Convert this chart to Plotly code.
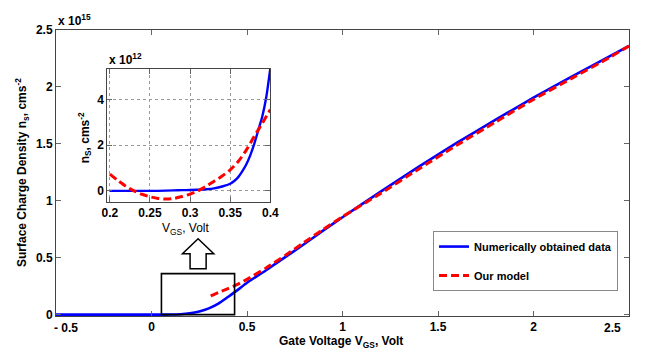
import plotly.graph_objects as go

# ---- main plot data (values in units of 1e15 cm^-2) ----
vgs_num = [-0.5, 0.0, 0.05, 0.1, 0.15, 0.2, 0.25, 0.3, 0.35, 0.4, 0.45, 0.5, 0.6, 0.7,
           0.8, 0.9, 1.0, 1.2, 1.4, 1.6, 1.8, 2.0, 2.2, 2.4, 2.5]
ns_num = [0, 0, 0, 0.001, 0.004, 0.012, 0.028, 0.055, 0.097, 0.155, 0.215, 0.28, 0.39, 0.505,
          0.62, 0.74, 0.855, 1.08, 1.30, 1.51, 1.71, 1.905, 2.09, 2.27, 2.36]

vgs_model = [0.31, 0.35, 0.4, 0.45, 0.5, 0.6, 0.7, 0.8, 0.9, 1.0, 1.2, 1.4, 1.6, 1.8,
             2.0, 2.2, 2.4, 2.5]
ns_model = [0.165, 0.195, 0.228, 0.265, 0.31, 0.41, 0.52, 0.635, 0.75, 0.86, 1.065, 1.28,
            1.49, 1.69, 1.89, 2.075, 2.26, 2.36]

# ---- inset data (values in units of 1e12 cm^-2) ----
inset_vgs_num = [0.2, 0.22, 0.24, 0.26, 0.28, 0.29, 0.3, 0.31, 0.32, 0.33, 0.34, 0.35,
                 0.355, 0.36, 0.365, 0.37, 0.375, 0.38, 0.385, 0.39, 0.395, 0.4]
inset_ns_num = [0, 0, 0, 0, 0.02, 0.03, 0.035, 0.045, 0.07, 0.11, 0.19, 0.31, 0.43, 0.6,
                0.85, 1.15, 1.55, 2.05, 2.65, 3.25, 4.1, 5.35]

inset_vgs_model = [0.2, 0.21, 0.22, 0.23, 0.24, 0.25, 0.26, 0.27, 0.28, 0.29, 0.3, 0.31,
                   0.32, 0.33, 0.34, 0.35, 0.36, 0.37, 0.38, 0.39, 0.4]
inset_ns_model = [0.73, 0.45, 0.2, 0.0, -0.15, -0.26, -0.33, -0.36, -0.33, -0.25, -0.14,
                  0.0, 0.2, 0.42, 0.65, 0.92, 1.28, 1.78, 2.38, 2.95, 3.55]

main_xticks = [-0.5, 0, 0.5, 1, 1.5, 2, 2.5]
main_xticktext = ["", "0", "0.5", "1", "1.5", "2", ""]
main_yticks = [0, 0.5, 1, 1.5, 2, 2.5]
main_yticktext = ["0", "0.5", "1", "1.5", "2", "2.5"]
inset_xticks = [0.2, 0.25, 0.3, 0.35, 0.4]
inset_xticktext = ["0.2", "0.25", "0.3", "0.35", "0.4"]
inset_yticks = [0, 2, 4]

FONT = "Liberation Sans, Arial, sans-serif"
BLUE = "#0000FF"
RED = "#FF0000"

fig = go.Figure()

fig.add_trace(go.Scatter(x=vgs_num, y=ns_num, mode="lines", name="Numerically obtained data",
                         line=dict(color=BLUE, width=2.6, shape="spline", smoothing=0.6),
                         legendgroup="a", xaxis="x", yaxis="y"))
fig.add_trace(go.Scatter(x=vgs_model, y=ns_model, mode="lines", name="Our model",
                         line=dict(color=RED, width=3, dash="8px,4px", shape="spline", smoothing=0.6),
                         legendgroup="b", xaxis="x", yaxis="y"))

fig.add_trace(go.Scatter(x=inset_vgs_num, y=inset_ns_num, mode="lines", showlegend=False,
                         line=dict(color=BLUE, width=2.4, shape="spline", smoothing=0.6),
                         xaxis="x2", yaxis="y2"))
fig.add_trace(go.Scatter(x=inset_vgs_model, y=inset_ns_model, mode="lines", showlegend=False,
                         line=dict(color=RED, width=3, dash="8px,4px", shape="spline", smoothing=0.6),
                         xaxis="x2", yaxis="y2"))

tickfont = dict(family=FONT, size=12, color="black", weight="bold")
axis_common = dict(showline=True, linecolor="#444", linewidth=1, mirror="ticks",
                   ticks="inside", ticklen=5, tickcolor="#666", zeroline=False,
                   tickfont=tickfont)

fig.update_layout(
    width=650, height=354,
    margin=dict(l=56, r=15, t=30, b=38),
    paper_bgcolor="white", plot_bgcolor="white",
    font=dict(family=FONT, size=11, color="black"),
    xaxis=dict(range=[-0.5, 2.5], tickvals=main_xticks, ticktext=main_xticktext,
               showgrid=False, domain=[0, 1], **axis_common),
    yaxis=dict(range=[-0.012, 2.5], tickvals=main_yticks, ticktext=main_yticktext,
               showgrid=False, domain=[0, 1], **axis_common),
    xaxis2=dict(range=[0.197, 0.4], tickvals=inset_xticks, ticktext=inset_xticktext,
                domain=[0.0898, 0.374], anchor="y2", showgrid=True, gridcolor="#999",
                griddash="dot", gridwidth=1, **axis_common),
    yaxis2=dict(range=[-0.47, 5.33], tickvals=inset_yticks,
                domain=[0.40, 0.864], anchor="x2", showgrid=True, gridcolor="#999",
                griddash="dot", gridwidth=1, **axis_common),
    legend=dict(x=0.658, y=0.297, xanchor="left", yanchor="top",
                bgcolor="white", bordercolor="#888", borderwidth=1,
                font=dict(family=FONT, size=11, color="black", weight="bold"),
                tracegroupgap=10, itemwidth=30),
    showlegend=True,
)

# zoom rectangle and hollow arrow
fig.add_shape(type="rect", xref="x", yref="y", x0=0.052, x1=0.435, y0=0.0, y1=0.36,
              line=dict(color="black", width=1.6), fillcolor="rgba(0,0,0,0)")
ax_c, head_h, shaft_h = 0.244, 0.082, 0.042
y_tip, y_base, y_bot = 0.667, 0.535, 0.404
arrow_path = (f"M {ax_c},{y_tip} L {ax_c + head_h},{y_base} L {ax_c + shaft_h},{y_base} "
              f"L {ax_c + shaft_h},{y_bot} L {ax_c - shaft_h},{y_bot} L {ax_c - shaft_h},{y_base} "
              f"L {ax_c - head_h},{y_base} Z")
fig.add_shape(type="path", xref="x", yref="y", path=arrow_path,
              line=dict(color="black", width=1.5), fillcolor="white")

bold = dict(family=FONT, size=12, color="black", weight="bold")
ann = [
    dict(text="x 10<sup>15</sup>", xref="paper", yref="paper", x=0, y=1, xanchor="left",
         yanchor="bottom", showarrow=False, font=bold, yshift=0),
    dict(text="x 10<sup>12</sup>", xref="x2 domain", yref="y2 domain", x=0, y=1, xanchor="left",
         yanchor="bottom", showarrow=False, font=bold, yshift=0),
    dict(text="Surface Charge Density n<sub>s</sub>, cms<sup>-2</sup>", xref="paper", yref="paper",
         x=0, y=0.5, xshift=-34, xanchor="center", yanchor="middle", textangle=-90,
         showarrow=False, font=bold),
    dict(text="Gate Voltage V<sub>GS</sub>, Volt", xref="paper", yref="paper",
         x=0.497, y=0, yshift=-26, xanchor="center", yanchor="middle",
         showarrow=False, font=bold),
    dict(text="n<sub>S</sub>, cms<sup>-2</sup>", xref="x2 domain", yref="y2 domain",
         x=0, y=0.48, xshift=-23, xanchor="center", yanchor="middle", textangle=-90,
         showarrow=False, font=bold),
    dict(text="V<sub>GS</sub>, Volt", xref="x2 domain", yref="y2 domain",
         x=0.48, y=0, yshift=-27, xanchor="center", yanchor="middle", showarrow=False,
         font=dict(family=FONT, size=12, color="black")),
    dict(text="- 0.5", xref="x", yref="paper", x=-0.5, y=0, xshift=10, yshift=-12,
         xanchor="center", yanchor="middle", showarrow=False, font=bold),
    dict(text="2.5", xref="x", yref="paper", x=2.5, y=0, xshift=-17, yshift=-12,
         xanchor="center", yanchor="middle", showarrow=False, font=bold),
]
fig.update_layout(annotations=ann)

fig.write_html("out.html", config={"displayModeBar": False},
               post_script="document.body.style.margin='0px';")
